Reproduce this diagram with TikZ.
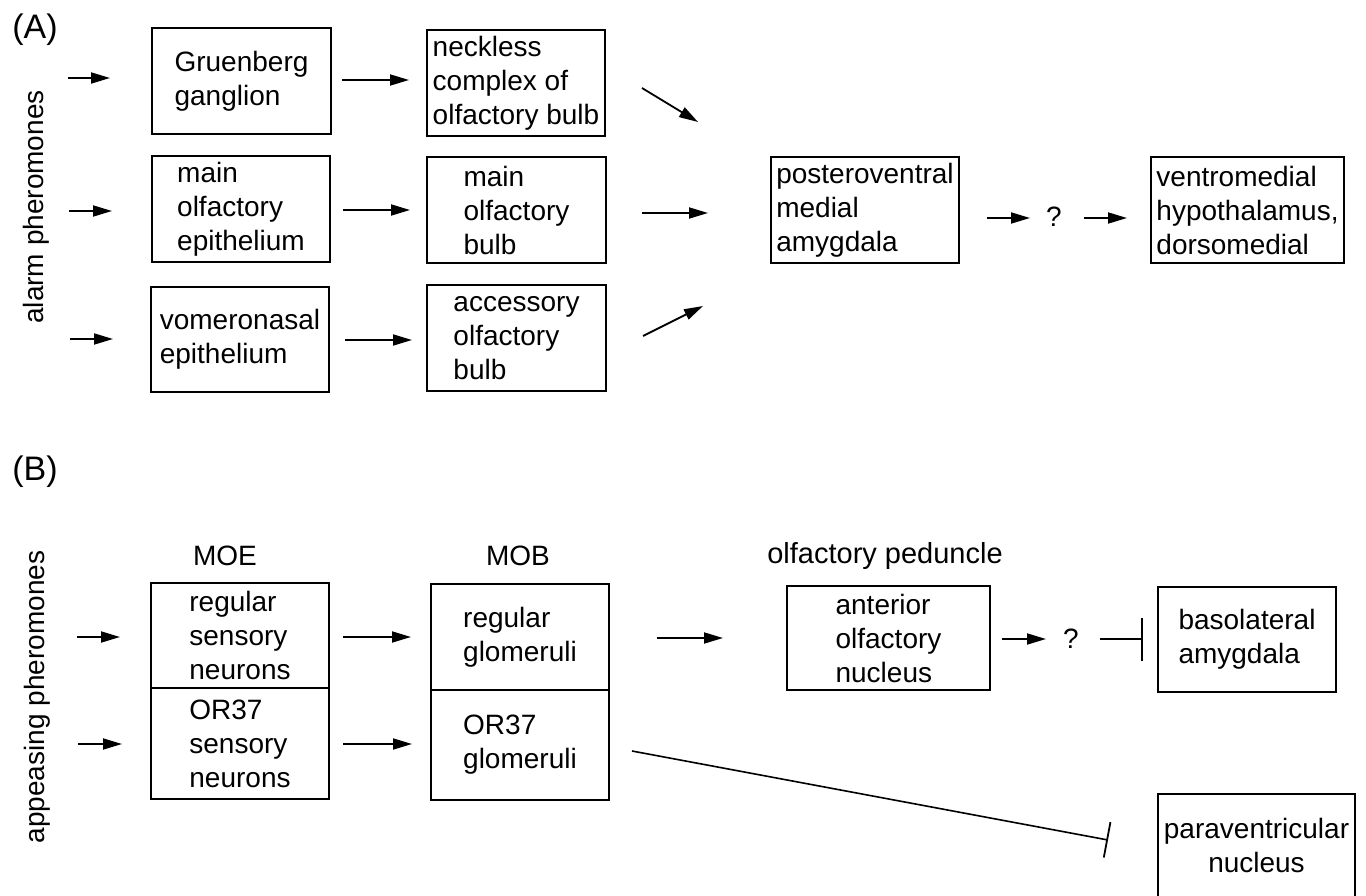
\documentclass[tikz,border=0pt]{standalone}
\usepackage{fontspec}
\setmainfont{Liberation Sans}
\usetikzlibrary{arrows.meta}
\begin{document}
\begin{tikzpicture}[x=1pt,y=-1pt,
  box/.style={draw, line width=1.7pt, rectangle, inner sep=0pt, font=\fontsize{28}{34}\selectfont, align=left},
  lbl/.style={font=\fontsize{28}{34}\selectfont, inner sep=0pt},
  arr/.style={line width=1.8pt, -{Triangle[length=19pt,width=11pt]}},
  inh/.style={line width=1.6pt, -{Bar[width=43pt,line width=1.8pt]}},
]
\useasboundingbox (0,0) rectangle (1366,896);

% ---------- Panel A ----------
\node[lbl, font=\fontsize{34}{40}\selectfont] (labA) at (35,30) {(A)};
\node[lbl, rotate=90] (alarm) at (36,207) {alarm pheromones};

\node[box, minimum width=179pt, minimum height=106pt] (gg) at (241.5,81) {Gruenberg\\ganglion};
\node[box, minimum width=178pt, minimum height=106pt] (moe) at (241,209) {main\\olfactory\\epithelium};
\node[box, minimum width=178pt, minimum height=105pt] (vne) at (240,339.5) {vomeronasal\\epithelium};

\node[box, minimum width=178pt, minimum height=106pt] (nc) at (516,83) {neckless\\complex of\\olfactory bulb};
\node[box, minimum width=179pt, minimum height=106pt] (mob) at (516.5,210) {main\\olfactory\\bulb};
\node[box, minimum width=179pt, minimum height=106pt] (aob) at (516.5,338) {accessory\\olfactory\\bulb};

\node[box, minimum width=188pt, minimum height=106pt] (pvma) at (865,210) {posteroventral\\medial\\amygdala};
\node[box, minimum width=193pt, minimum height=106pt] (vmh) at (1247.5,210) {ventromedial\\hypothalamus,\\dorsomedial};

\node[lbl] (qA) at (1054,217) {?};

% arrow end points (A)
\coordinate (ia1) at (68,78);   \coordinate (ib1) at (110,78);
\coordinate (ia2) at (69,211);  \coordinate (ib2) at (112,211);
\coordinate (ia3) at (70,339);  \coordinate (ib3) at (113,339);
\coordinate (ca1) at (342,80);  \coordinate (cb1) at (409,80);
\coordinate (ca2) at (343,210); \coordinate (cb2) at (410,210);
\coordinate (ca3) at (345,340); \coordinate (cb3) at (412,340);
\coordinate (da1) at (642,88);  \coordinate (db1) at (698,122);
\coordinate (da2) at (642,213); \coordinate (db2) at (708,213);
\coordinate (da3) at (643,336); \coordinate (db3) at (703,306);
\coordinate (qa1) at (987,218); \coordinate (qb1) at (1030,218);
\coordinate (qa2) at (1084,218);\coordinate (qb2) at (1127,218);

\draw[arr] (ia1) -- (ib1);
\draw[arr] (ia2) -- (ib2);
\draw[arr] (ia3) -- (ib3);
\draw[arr] (ca1) -- (cb1);
\draw[arr] (ca2) -- (cb2);
\draw[arr] (ca3) -- (cb3);
\draw[arr] (da1) -- (db1);
\draw[arr] (da2) -- (db2);
\draw[arr] (da3) -- (db3);
\draw[arr] (qa1) -- (qb1);
\draw[arr] (qa2) -- (qb2);

% ---------- Panel B ----------
\node[lbl, font=\fontsize{34}{40}\selectfont] (labB) at (35,472) {(B)};
\node[lbl, rotate=90] (appease) at (37,697) {appeasing pheromones};

\node[lbl, anchor=base] (moeT) at (225,565) {MOE};
\node[lbl, anchor=base] (mobT) at (518,565) {MOB};
\node[lbl, anchor=base, font=\fontsize{29}{34}\selectfont] (pedT) at (885,563) {olfactory peduncle};

\node[box, minimum width=178pt, minimum height=105pt] (rsn) at (240,635.5) {regular\\sensory\\neurons};
\node[box, minimum width=178pt, minimum height=111pt] (osn) at (240,743.5) {OR37\\sensory\\neurons};
\node[box, minimum width=178pt, minimum height=106pt] (rg) at (520,637) {regular\\glomeruli};
\node[box, minimum width=178pt, minimum height=110pt] (og) at (520,745) {OR37\\glomeruli};

\node[box, minimum width=203pt, minimum height=104pt] (aon) at (888.5,638) {anterior\\olfactory\\nucleus};
\node[box, minimum width=178pt, minimum height=105pt] (bla) at (1247,639.5) {basolateral\\amygdala};
\node[box, align=center, anchor=north, minimum width=197pt, inner ysep=24pt, text depth=14pt] (pvn) at (1256.5,793) {paraventricular\\nucleus};

\node[lbl] (qB) at (1071,639) {?};

\coordinate (ja1) at (77,637);   \coordinate (jb1) at (120,637);
\coordinate (ja2) at (78,744);   \coordinate (jb2) at (122,744);
\coordinate (ka1) at (343,637);  \coordinate (kb1) at (411,637);
\coordinate (ka2) at (343,744);  \coordinate (kb2) at (412,744);
\coordinate (pa) at (657,638);   \coordinate (pb) at (723,638);
\coordinate (ra) at (1002,639);  \coordinate (rb) at (1046,639);
\coordinate (sa) at (1100,639);  \coordinate (sb) at (1143,639);
\coordinate (ta) at (632,751);   \coordinate (tb) at (1108,840);

\draw[arr] (ja1) -- (jb1);
\draw[arr] (ja2) -- (jb2);
\draw[arr] (ka1) -- (kb1);
\draw[arr] (ka2) -- (kb2);
\draw[arr] (pa) -- (pb);
\draw[arr] (ra) -- (rb);
\draw[inh] (sa) -- (sb);
\draw[line width=1.6pt, -{Bar[width=36pt,line width=1.8pt]}] (ta) -- (tb);
\end{tikzpicture}
\end{document}
